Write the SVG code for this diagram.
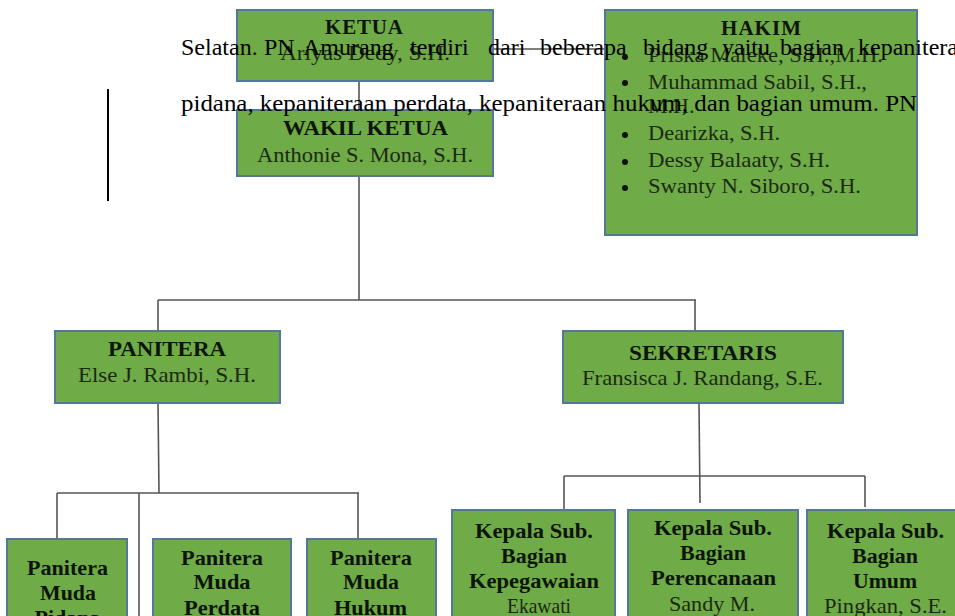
<svg xmlns="http://www.w3.org/2000/svg" width="955" height="616" viewBox="0 0 955 616">
<style>
.box{fill:#6fab46;stroke:#53789c;stroke-width:2}
.t{font-family:"Liberation Serif","Times New Roman",serif;text-anchor:middle}
.b{font-weight:bold;font-size:21px;fill:#0d140a}
.bb{font-weight:bold;font-size:22px;fill:#0d140a}
.n{font-size:22px;fill:#1b2913}
.h{font-family:"Liberation Serif","Times New Roman",serif;fill:#1b2913;font-size:22px}
.c{stroke:#555;stroke-width:1.6;fill:none}
.p{font-family:"Liberation Serif","Times New Roman",serif;fill:#000;font-size:24px}
</style>
<rect width="955" height="616" fill="#fff"/>
<g id="connectors">
<line class="c" x1="493" y1="49" x2="605" y2="49" stroke="#999"/>
<line class="c" x1="359" y1="81" x2="359" y2="110"/>
<line class="c" x1="359" y1="176" x2="359" y2="300"/>
<line class="c" x1="158" y1="300" x2="696" y2="300"/>
<line class="c" x1="158" y1="300" x2="158" y2="331"/>
<line class="c" x1="695" y1="300" x2="695" y2="331"/>
<line class="c" x1="158" y1="403" x2="159" y2="493"/>
<line class="c" x1="57" y1="493" x2="359" y2="493"/>
<line class="c" x1="57" y1="493" x2="57" y2="539"/>
<line class="c" x1="139" y1="493" x2="139" y2="616" stroke="#888"/>
<line class="c" x1="358" y1="493" x2="358" y2="539"/>
<line class="c" x1="699" y1="403" x2="700" y2="503"/>
<line class="c" x1="564" y1="476" x2="865" y2="476"/>
<line class="c" x1="564" y1="476" x2="564" y2="510"/>
<line class="c" x1="865" y1="476" x2="865" y2="507"/>
</g>
<g id="ketua">
<rect class="box" x="237" y="10" width="256" height="71"/>
<text class="t b" x="364" y="34" textLength="78" lengthAdjust="spacing">KETUA</text>
<text class="t n" x="365" y="60" textLength="170" lengthAdjust="spacingAndGlyphs">Ariyas Dedy, S.H.</text>
</g>
<g id="hakim">
<rect class="box" x="605" y="10" width="312" height="225"/>
<text class="t b" x="761" y="35" textLength="80" lengthAdjust="spacing">HAKIM</text>
<g class="h">
<circle cx="625" cy="57" r="3" fill="#111"/><text x="648" y="62" textLength="235" lengthAdjust="spacingAndGlyphs">Priska Maleke, S.H.,M.H.</text>
<circle cx="625" cy="83" r="3" fill="#111"/><text x="648" y="89" textLength="219" lengthAdjust="spacingAndGlyphs">Muhammad Sabil, S.H.,</text>
<text x="648" y="113">M.H.</text>
<circle cx="625" cy="135" r="3" fill="#111"/><text x="648" y="140" textLength="132" lengthAdjust="spacingAndGlyphs">Dearizka, S.H.</text>
<circle cx="625" cy="162" r="3" fill="#111"/><text x="648" y="167" textLength="182" lengthAdjust="spacingAndGlyphs">Dessy Balaaty, S.H.</text>
<circle cx="625" cy="188" r="3" fill="#111"/><text x="648" y="193" textLength="213" lengthAdjust="spacingAndGlyphs">Swanty N. Siboro, S.H.</text>
</g>
</g>
<g id="wakil">
<rect class="box" x="237" y="110" width="256" height="66"/>
<text class="t b" x="365.5" y="135" textLength="165" lengthAdjust="spacingAndGlyphs">WAKIL KETUA</text>
<text class="t n" x="365" y="162" textLength="216" lengthAdjust="spacingAndGlyphs">Anthonie S. Mona, S.H.</text>
</g>
<g id="panitera">
<rect class="box" x="55" y="331" width="225" height="72"/>
<text class="t b" x="167" y="356" textLength="118" lengthAdjust="spacingAndGlyphs">PANITERA</text>
<text class="t n" x="167" y="382" textLength="178" lengthAdjust="spacingAndGlyphs">Else J. Rambi, S.H.</text>
</g>
<g id="sekretaris">
<rect class="box" x="563" y="331" width="280" height="72"/>
<text class="t b" x="703" y="360" textLength="148" lengthAdjust="spacingAndGlyphs">SEKRETARIS</text>
<text class="t n" x="702.5" y="385" textLength="241" lengthAdjust="spacingAndGlyphs">Fransisca J. Randang, S.E.</text>
</g>
<g id="pm-pidana">
<rect class="box" x="7" y="539" width="120" height="90"/>
<text class="t bb" x="67.5" y="575" textLength="81" lengthAdjust="spacingAndGlyphs">Panitera</text>
<text class="t bb" x="68" y="600" textLength="56" lengthAdjust="spacingAndGlyphs">Muda</text>
<text class="t bb" x="67.5" y="625">Pidana</text>
</g>
<g id="pm-perdata">
<rect class="box" x="153" y="539" width="138" height="90"/>
<text class="t bb" x="222" y="565" textLength="82" lengthAdjust="spacingAndGlyphs">Panitera</text>
<text class="t bb" x="222" y="589" textLength="57" lengthAdjust="spacingAndGlyphs">Muda</text>
<text class="t bb" x="222" y="615" textLength="76" lengthAdjust="spacingAndGlyphs">Perdata</text>
</g>
<g id="pm-hukum">
<rect class="box" x="307" y="539" width="129" height="90"/>
<text class="t bb" x="371" y="565" textLength="82" lengthAdjust="spacingAndGlyphs">Panitera</text>
<text class="t bb" x="371" y="589" textLength="56" lengthAdjust="spacingAndGlyphs">Muda</text>
<text class="t bb" x="370.5" y="615" textLength="73" lengthAdjust="spacingAndGlyphs">Hukum</text>
</g>
<g id="ksb-kepegawaian">
<rect class="box" x="452" y="510" width="163" height="120"/>
<text class="t bb" x="534" y="538" textLength="118" lengthAdjust="spacingAndGlyphs">Kepala Sub.</text>
<text class="t bb" x="534" y="563" textLength="66" lengthAdjust="spacingAndGlyphs">Bagian</text>
<text class="t bb" x="534" y="588" textLength="130" lengthAdjust="spacingAndGlyphs">Kepegawaian</text>
<text class="t n" x="539" y="613" textLength="64" lengthAdjust="spacingAndGlyphs">Ekawati</text>
</g>
<g id="ksb-perencanaan">
<rect class="box" x="628" y="510" width="170" height="120"/>
<text class="t bb" x="713" y="535" textLength="118" lengthAdjust="spacingAndGlyphs">Kepala Sub.</text>
<text class="t bb" x="713" y="560" textLength="66" lengthAdjust="spacingAndGlyphs">Bagian</text>
<text class="t bb" x="713.5" y="585" textLength="125" lengthAdjust="spacingAndGlyphs">Perencanaan</text>
<text class="t n" x="712" y="611" textLength="86" lengthAdjust="spacingAndGlyphs">Sandy M.</text>
</g>
<g id="ksb-umum">
<rect class="box" x="807" y="510" width="160" height="120"/>
<text class="t bb" x="885.5" y="538" textLength="117" lengthAdjust="spacingAndGlyphs">Kepala Sub.</text>
<text class="t bb" x="885" y="563" textLength="66" lengthAdjust="spacingAndGlyphs">Bagian</text>
<text class="t bb" x="885" y="588" textLength="64" lengthAdjust="spacingAndGlyphs">Umum</text>
<text class="t n" x="885.5" y="613" textLength="123" lengthAdjust="spacingAndGlyphs">Pingkan, S.E.</text>
</g>
<g id="page-text" class="p">
<text x="181" y="55">Selatan.</text>
<text x="264" y="55">PN</text>
<text x="303" y="55">Amurang</text>
<text x="410" y="55">terdiri</text>
<text x="488" y="55">dari</text>
<text x="540" y="55">beberapa</text>
<text x="643" y="55">bidang</text>
<text x="722" y="55">yaitu</text>
<text x="780" y="55">bagian</text>
<text x="858" y="55">kepaniteraan</text>
<text x="181" y="111" textLength="736" lengthAdjust="spacingAndGlyphs">pidana, kepaniteraan perdata, kepaniteraan hukum, dan bagian umum. PN</text>
</g>
<line x1="108" y1="89" x2="108" y2="201" stroke="#000" stroke-width="2"/>
</svg>
